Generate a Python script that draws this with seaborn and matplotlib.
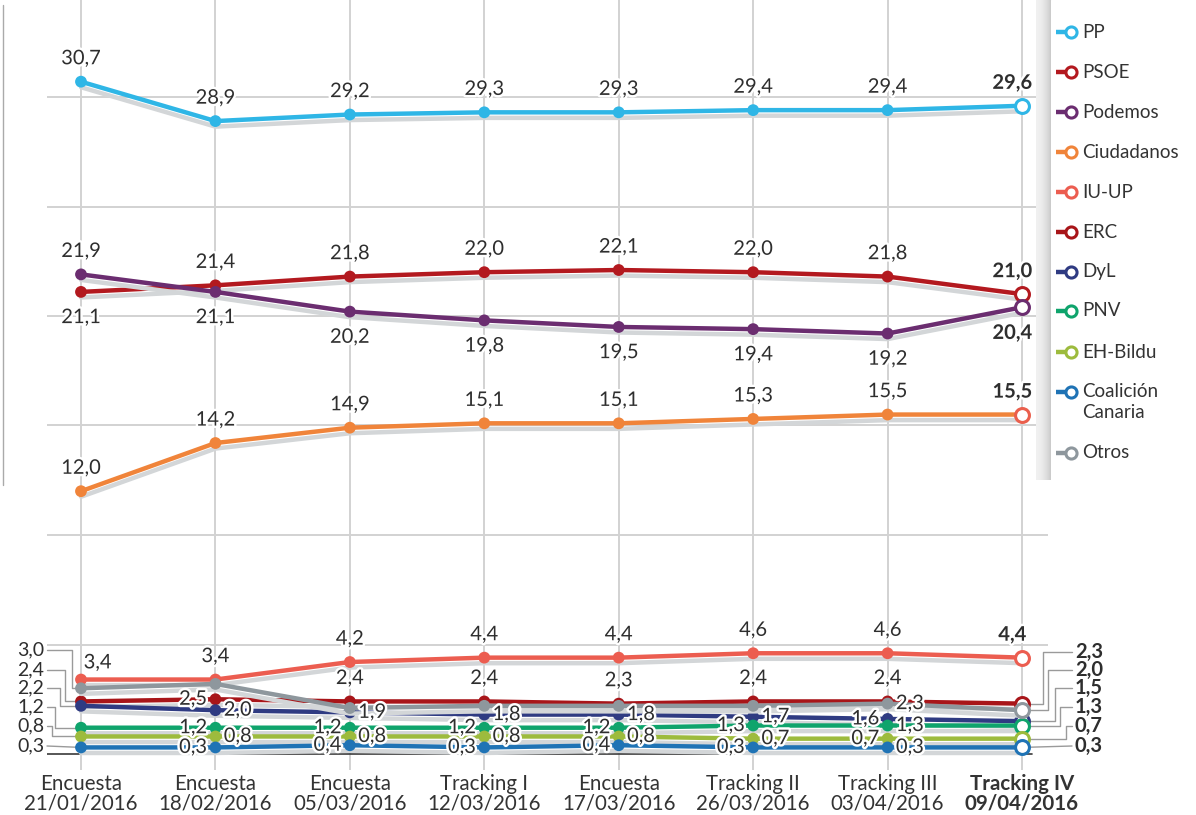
import numpy as np
import pandas as pd
import matplotlib
matplotlib.use("Agg")
import matplotlib.pyplot as plt
import matplotlib.patheffects as pe
import seaborn as sns

# datos de la serie (estimacion de voto, %)
fechas = ["Encuesta\n21/01/2016", "Encuesta\n18/02/2016", "Encuesta\n05/03/2016",
          "Tracking I\n12/03/2016", "Encuesta\n17/03/2016", "Tracking II\n26/03/2016",
          "Tracking III\n03/04/2016", "Tracking IV\n09/04/2016"]

pp = [30.7, 28.9, 29.2, 29.3, 29.3, 29.4, 29.4, 29.6]
psoe = [21.1, 21.4, 21.8, 22.0, 22.1, 22.0, 21.8, 21.0]
podemos = [21.9, 21.1, 20.2, 19.8, 19.5, 19.4, 19.2, 20.4]
ciudadanos = [12.0, 14.2, 14.9, 15.1, 15.1, 15.3, 15.5, 15.5]
iu_up = [3.4, 3.4, 4.2, 4.4, 4.4, 4.6, 4.6, 4.4]
erc = [2.4, 2.5, 2.4, 2.4, 2.3, 2.4, 2.4, 2.3]
dyl = [2.2, 2.0, 1.9, 1.8, 1.8, 1.7, 1.6, 1.5]
pnv = [1.2, 1.2, 1.2, 1.2, 1.2, 1.3, 1.3, 1.3]
bildu = [0.8, 0.8, 0.8, 0.8, 0.8, 0.7, 0.7, 0.7]
cc = [0.3, 0.3, 0.4, 0.3, 0.4, 0.3, 0.3, 0.3]
otros = [3.0, 3.2, 2.1, 2.2, 2.2, 2.2, 2.3, 2.0]

partidos = ["PP", "PSOE", "Podemos", "Ciudadanos", "IU-UP", "ERC", "DyL", "PNV",
            "EH-Bildu", "Coalición\nCanaria", "Otros"]
valores = [pp, psoe, podemos, ciudadanos, iu_up, erc, dyl, pnv, bildu, cc, otros]
colores = ["#2fb6e6", "#b3191f", "#6b2d70", "#f0843a", "#ec5d50", "#a81519",
           "#2f3b82", "#0fa46c", "#9dbb3d", "#1f73b5", "#8e979d"]

# donde va cada etiqueta: a=arriba, b=abajo, l=izq, r=dcha
posiciones = [
    ["a"] * 8,
    ["b", "a", "a", "a", "a", "a", "a", "a"],
    ["a", "b", "b", "b", "b", "b", "b", "b"],
    ["a"] * 8,
    ["ar", "a", "a", "a", "a", "a", "a", "a"],
    [None, "l", "a", "a", "a", "a", "a", None],
    [None, "r", "r", "r", "r", "r", "l", None],
    [None, "l", "l", "l", "l", "l", "r", None],
    [None, "r", "r", "r", "r", "r", "l", None],
    [None, "l", "l", "l", "l", "l", "r", None],
    [None, None, None, None, None, None, "r", None],
]

df = pd.DataFrame({
    "pos": np.tile(np.arange(len(fechas)), len(partidos)),
    "partido": np.repeat(partidos, len(fechas)),
    "valor": np.concatenate(valores),
})

sns.set_theme(style="white")
plt.rcParams["font.family"] = ["Lato", "DejaVu Sans"]

W, H = 1196, 815
X0, X7, Y0, DY = 81, 1022, 754, 21.9
DX = (X7 - X0) / 7


def px_x(px):
    return (px - X0) / DX


def px_y(py):
    return (Y0 - py) / DY


fig = plt.figure(figsize=(W / 100, H / 100), dpi=100)
ax = fig.add_axes([47 / W, 45 / H, 1001 / W, 770 / H])
ax.set_xlim(px_x(47), px_x(1048))
ax.set_ylim(px_y(770), px_y(0))

texto = "#2e2e2e"
halo = [pe.withStroke(linewidth=3.5, foreground="white")]
sombra = [pe.SimpleLineShadow(offset=(0, -4), shadow_color="#d3d6d8", alpha=1.0), pe.Normal()]

for i, (nombre, col) in enumerate(zip(partidos, colores)):
    sub = df[df["partido"] == nombre]
    sns.lineplot(data=sub, x="pos", y="valor", color=col, lw=3.2, marker="o",
                 markersize=8.5, markeredgewidth=0, ax=ax, zorder=5 + i, legend=False)
    ax.lines[-1].set_path_effects(sombra)
    ult = sub.iloc[-1]
    borde = "#ea5f4d" if nombre == "Ciudadanos" else col
    ax.plot(ult["pos"], ult["valor"], marker="o", ms=10, mfc="white", mec=borde,
            mew=2.2, zorder=5 + i)

# etiquetas de valor
offs = {"a": (0, 16.5), "ar": (12, 12), "b": (0, -18.5), "l": (-6, 0), "r": (6, 0)}
has = {"a": "center", "ar": "center", "b": "center", "l": "right", "r": "left"}
for vals, poss in zip(valores, posiciones):
    for j, (v, p) in enumerate(zip(vals, poss)):
        if p is None:
            continue
        dx, dy = offs[p]
        peso = "normal"
        if j == len(vals) - 1:
            peso = "bold"
            dx -= 7
        ax.annotate(f"{v:.1f}".replace(".", ","), (j, v), xytext=(dx, dy),
                    textcoords="offset points", ha=has[p], va="center",
                    fontsize=14.5, color=texto, fontweight=peso,
                    path_effects=halo, zorder=30)

# etiquetas con guias a la izquierda (primer dato) y a la derecha (ultimo dato)
izq = [(otros, 650, 72), (erc, 670, 65), (dyl, 688, 60), (pnv, 707, 55), (bildu, 726, 52), (cc, 746, None)]
for vals, ly, vx in izq:
    v = vals[0]
    if vx is None:
        xs, ys = [px_x(47), 0], [px_y(ly), v]
    else:
        xs = [px_x(47), px_x(vx), px_x(vx), 0]
        ys = [px_y(ly), px_y(ly), v, v]
    ax.plot(xs, ys, color="#9a9a9a", lw=1, zorder=3, clip_on=False)
    ax.text(px_x(44), px_y(ly), f"{v:.1f}".replace(".", ","), ha="right", va="center",
            fontsize=14, color=texto, clip_on=False)

dcha = [(erc, 652, 1043), (otros, 670, 1048), (dyl, 688, 1055), (pnv, 707, 1060), (bildu, 726, 1066), (cc, 746, None)]
for vals, ly, vx in dcha:
    v = vals[-1]
    if vx is None:
        xs, ys = [7, px_x(1072)], [v, px_y(ly)]
    else:
        xs = [7, px_x(vx), px_x(vx), px_x(1072)]
        ys = [v, v, px_y(ly), px_y(ly)]
    ax.plot(xs, ys, color="#9a9a9a", lw=1, zorder=3, clip_on=False)
    ax.text(px_x(1075), px_y(ly), f"{v:.1f}".replace(".", ","), ha="left", va="center",
            fontsize=14.5, fontweight="bold", color=texto, clip_on=False)

# rejilla y ejes
ax.set_xticks(range(len(fechas)))
ax.set_xticklabels(fechas, family=["Liberation Sans Narrow", "Lato"], fontsize=14.8,
                   color="#333333", linespacing=0.98)
ax.get_xticklabels()[-1].set_fontweight("bold")
ax.set_yticks([5, 10, 15, 20, 25, 30])
ax.set_yticklabels([])
ax.tick_params(length=0, pad=3)
ax.grid(True, color="#d2d2d2", lw=1.4)
ax.set_axisbelow(True)
ax.axhline(0, xmax=(1032 - 47) / 1001, color="#3a3a3a", lw=1.2, zorder=2)
for s in ax.spines.values():
    s.set_visible(False)
ax.set_xlabel("")
ax.set_ylabel("")

# linea gris del borde izquierdo
fig.add_artist(plt.Line2D([3 / W, 3 / W], [1 - 5 / H, 1 - 485 / H], color="#aaaaaa", lw=1))

# panel de leyenda
sh = fig.add_axes([1036 / W, 1 - 480 / H, 16 / W, 480 / H])
grad = np.linspace(0, 1, 64).reshape(1, -1) ** 2
sh.imshow(grad, aspect="auto", cmap=sns.light_palette("#c4c4c4", as_cmap=True), vmin=0, vmax=1)
sh.axis("off")

lg = fig.add_axes([1051 / W, 1 - 480 / H, 145 / W, 480 / H])
lg.set_xlim(0, 145)
lg.set_ylim(480, 0)
lg.axis("off")
lg.add_patch(plt.Rectangle((0, 0), 145, 480, color="white", zorder=0))
ys_leg = [32, 72, 112, 152, 192, 232, 272, 311, 352, 392, 453]
for nombre, col, y in zip(partidos, colores, ys_leg):
    lg.plot([5, 18], [y, y], color=col, lw=3.2, solid_capstyle="butt")
    lg.plot(19.5, y, marker="o", ms=8, mfc="white", mec=col, mew=2.2)
    if "\n" in nombre:
        lg.text(31, y - 9, nombre, ha="left", va="top", fontsize=13.5,
                color="#333333", linespacing=1.25)
    else:
        lg.text(31, y, nombre, ha="left", va="center", fontsize=13.5, color="#333333")

fig.savefig("out.png", dpi=100)
